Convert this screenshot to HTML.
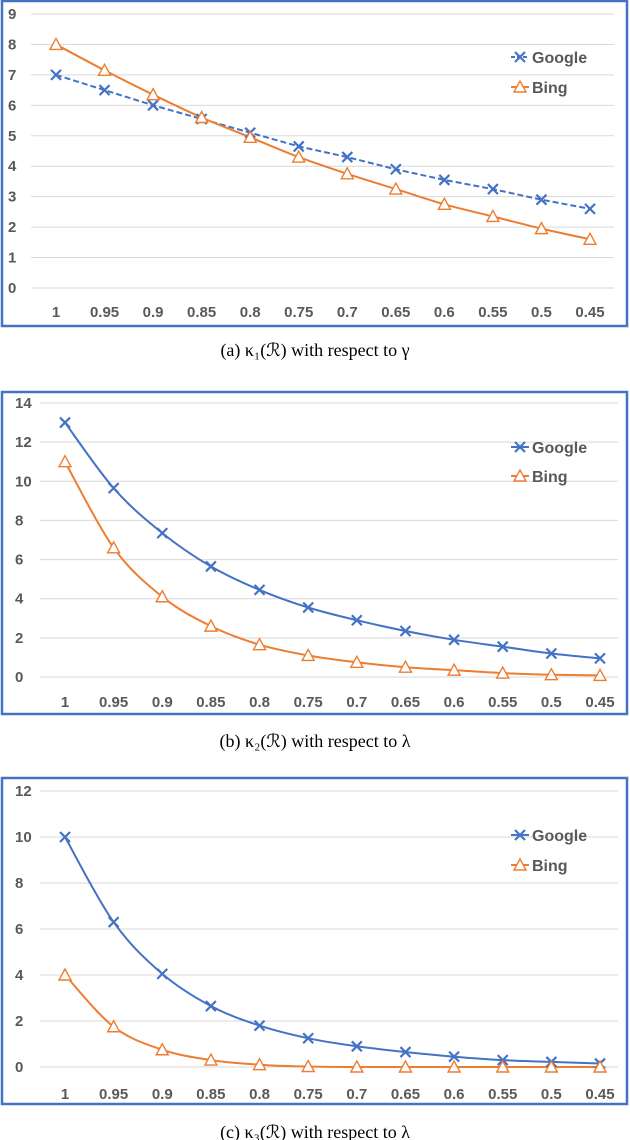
<!DOCTYPE html>
<html><head><meta charset="utf-8"><style>
body{margin:0;background:#fff;width:630px;height:1140px;overflow:hidden}
svg{display:block}
</style></head><body>
<svg id="s" width="630" height="1140" xmlns="http://www.w3.org/2000/svg"></svg>
<script>
const categories=["1","0.95","0.9","0.85","0.8","0.75","0.7","0.65","0.6","0.55","0.5","0.45"];
const google1=[7,6.5,6,5.55,5.1,4.65,4.3,3.9,3.55,3.25,2.9,2.6];
const bing1=[8,7.15,6.35,5.6,4.95,4.3,3.75,3.25,2.75,2.35,1.95,1.6];
const google2=[13,9.65,7.35,5.65,4.45,3.55,2.9,2.35,1.9,1.55,1.2,0.95];
const bing2=[11,6.6,4.1,2.6,1.65,1.1,0.75,0.5,0.35,0.2,0.12,0.08];
const google3=[10,6.3,4.05,2.65,1.8,1.25,0.9,0.65,0.45,0.3,0.22,0.15];
const bing3=[4,1.75,0.75,0.3,0.1,0.02,0,0,0,0,0,0];
const yTicks1=[0,1,2,3,4,5,6,7,8,9];
const yTicks2=[0,2,4,6,8,10,12,14];
const yTicks3=[0,2,4,6,8,10,12];
const captions=["(a) κ\u2081(\u211B) with respect to γ","(b) κ\u2082(\u211B) with respect to λ","(c) κ\u2083(\u211B) with respect to λ"];

const NS="http://www.w3.org/2000/svg";
const svg=document.getElementById('s');
function mk(tag,attrs,parent){const e=document.createElementNS(NS,tag);for(const k in attrs)e.setAttribute(k,attrs[k]);(parent||svg).appendChild(e);return e;}
const BLUE="#4472c4",ORANGE="#ed7d31";

const charts=[
 {g:google1,b:bing1,ticks:yTicks1,box:[2,1,625,325],y0:288,yTop:14,yMax:9,x0:56,x1:590,plotL:31,plotR:614,yl:8,xly:317,cap:356,leg:[520,57,87],dash:true,smooth:false,id:'a'},
 {g:google2,b:bing2,ticks:yTicks2,box:[2,392,625,322],y0:677,yTop:403,yMax:14,x0:65,x1:600,plotL:40,plotR:618,yl:15,xly:707,cap:747,leg:[520,447,476],dash:false,smooth:true,id:'b'},
 {g:google3,b:bing3,ticks:yTicks3,box:[2,778,625,326],y0:1067,yTop:791,yMax:12,x0:65,x1:600,plotL:40,plotR:618,yl:15,xly:1099,cap:1138,leg:[520,835,865],dash:false,smooth:true,id:'c'}
];

function pathFor(pts,smooth){
 if(!smooth){return "M"+pts.map(p=>p[0].toFixed(1)+","+p[1].toFixed(1)).join("L");}
 let d="M"+pts[0][0]+","+pts[0][1];
 for(let i=0;i<pts.length-1;i++){
  const p0=pts[Math.max(0,i-1)],p1=pts[i],p2=pts[i+1],p3=pts[Math.min(pts.length-1,i+2)];
  const c1=[p1[0]+(p2[0]-p0[0])/6,p1[1]+(p2[1]-p0[1])/6];
  const c2=[p2[0]-(p3[0]-p1[0])/6,p2[1]-(p3[1]-p1[1])/6];
  d+="C"+c1[0].toFixed(1)+","+c1[1].toFixed(1)+" "+c2[0].toFixed(1)+","+c2[1].toFixed(1)+" "+p2[0].toFixed(1)+","+p2[1].toFixed(1);
 }
 return d;
}
function cross(g,x,y,name){
 const e=mk('path',{d:`M${x-5},${y-5}L${x+5},${y+5}M${x-5},${y+5}L${x+5},${y-5}`,stroke:BLUE,'stroke-width':2.2,fill:'none'},g);
 
 
}
function tri(g,x,y,name){
 const e=mk('path',{d:`M${x},${y-6}L${x+6},${y+5}L${x-6},${y+5}Z`,stroke:ORANGE,'stroke-width':1.4,fill:'#fff'},g);
 
 
}

charts.forEach(c=>{
 const g=mk('g',{});
 
 
 const X=i=>c.x0+(c.x1-c.x0)*i/(categories.length-1);
 const Y=v=>c.y0-(c.y0-c.yTop)*v/c.yMax;
 const box=mk('rect',{x:c.box[0],y:c.box[1],width:c.box[2],height:c.box[3],fill:'#fff',stroke:'#4472c4','stroke-width':2.5},g);
 
 
 c.ticks.forEach(t=>{
  const l=mk('line',{x1:c.plotL,x2:c.plotR,y1:Y(t),y2:Y(t),stroke:'#d9d9d9','stroke-width':1},g);
  
  
  const tx=mk('text',{x:c.yl,y:Y(t)+5,'font-family':'Liberation Sans, sans-serif','font-size':15,'font-weight':'bold',fill:'#595959','text-anchor':'start'},g);
  tx.textContent=t;
  
  
 });
 categories.forEach((cat,i)=>{
  const tx=mk('text',{x:X(i),y:c.xly,'font-family':'Liberation Sans, sans-serif','font-size':15,'font-weight':'bold',fill:'#595959','text-anchor':'middle'},g);
  tx.textContent=cat;
  
  
 });
 const gp=c.g.map((v,i)=>[X(i),Y(v)]), bp=c.b.map((v,i)=>[X(i),Y(v)]);
 const gl=mk('path',{d:pathFor(gp,c.smooth),stroke:BLUE,'stroke-width':2,fill:'none','stroke-dasharray':c.dash?'6,3':'none'},g);
 
 
 const bl=mk('path',{d:pathFor(bp,true),stroke:ORANGE,'stroke-width':2,fill:'none'},g);
 
 
 gp.forEach(p=>cross(g,p[0],p[1],'google-point'));
 bp.forEach(p=>tri(g,p[0],p[1],'bing-point'));
 const [lx,ly1,ly2]=c.leg;
 const l1=mk('line',{x1:lx-9,x2:lx+9,y1:ly1,y2:ly1,stroke:BLUE,'stroke-width':2,'stroke-dasharray':c.dash?'4,2':'none'},g);
 
 
 cross(g,lx,ly1,'legend-google-marker');
 const t1=mk('text',{x:lx+12,y:ly1+6,'font-family':'Liberation Sans, sans-serif','font-size':16,'font-weight':'bold',fill:'#595959'},g);
 t1.textContent='Google';
 
 
 const l2=mk('line',{x1:lx-9,x2:lx+9,y1:ly2,y2:ly2,stroke:ORANGE,'stroke-width':2},g);
 
 
 tri(g,lx,ly2,'legend-bing-marker');
 const t2=mk('text',{x:lx+12,y:ly2+6,'font-family':'Liberation Sans, sans-serif','font-size':16,'font-weight':'bold',fill:'#595959'},g);
 t2.textContent='Bing';
 
 
 const cap=mk('text',{x:315,y:c.cap,'font-family':'Liberation Serif, serif','font-size':18,fill:'#000','text-anchor':'middle'});
 cap.textContent=captions[charts.indexOf(c)];
 
 
});
</script>
</body></html>
